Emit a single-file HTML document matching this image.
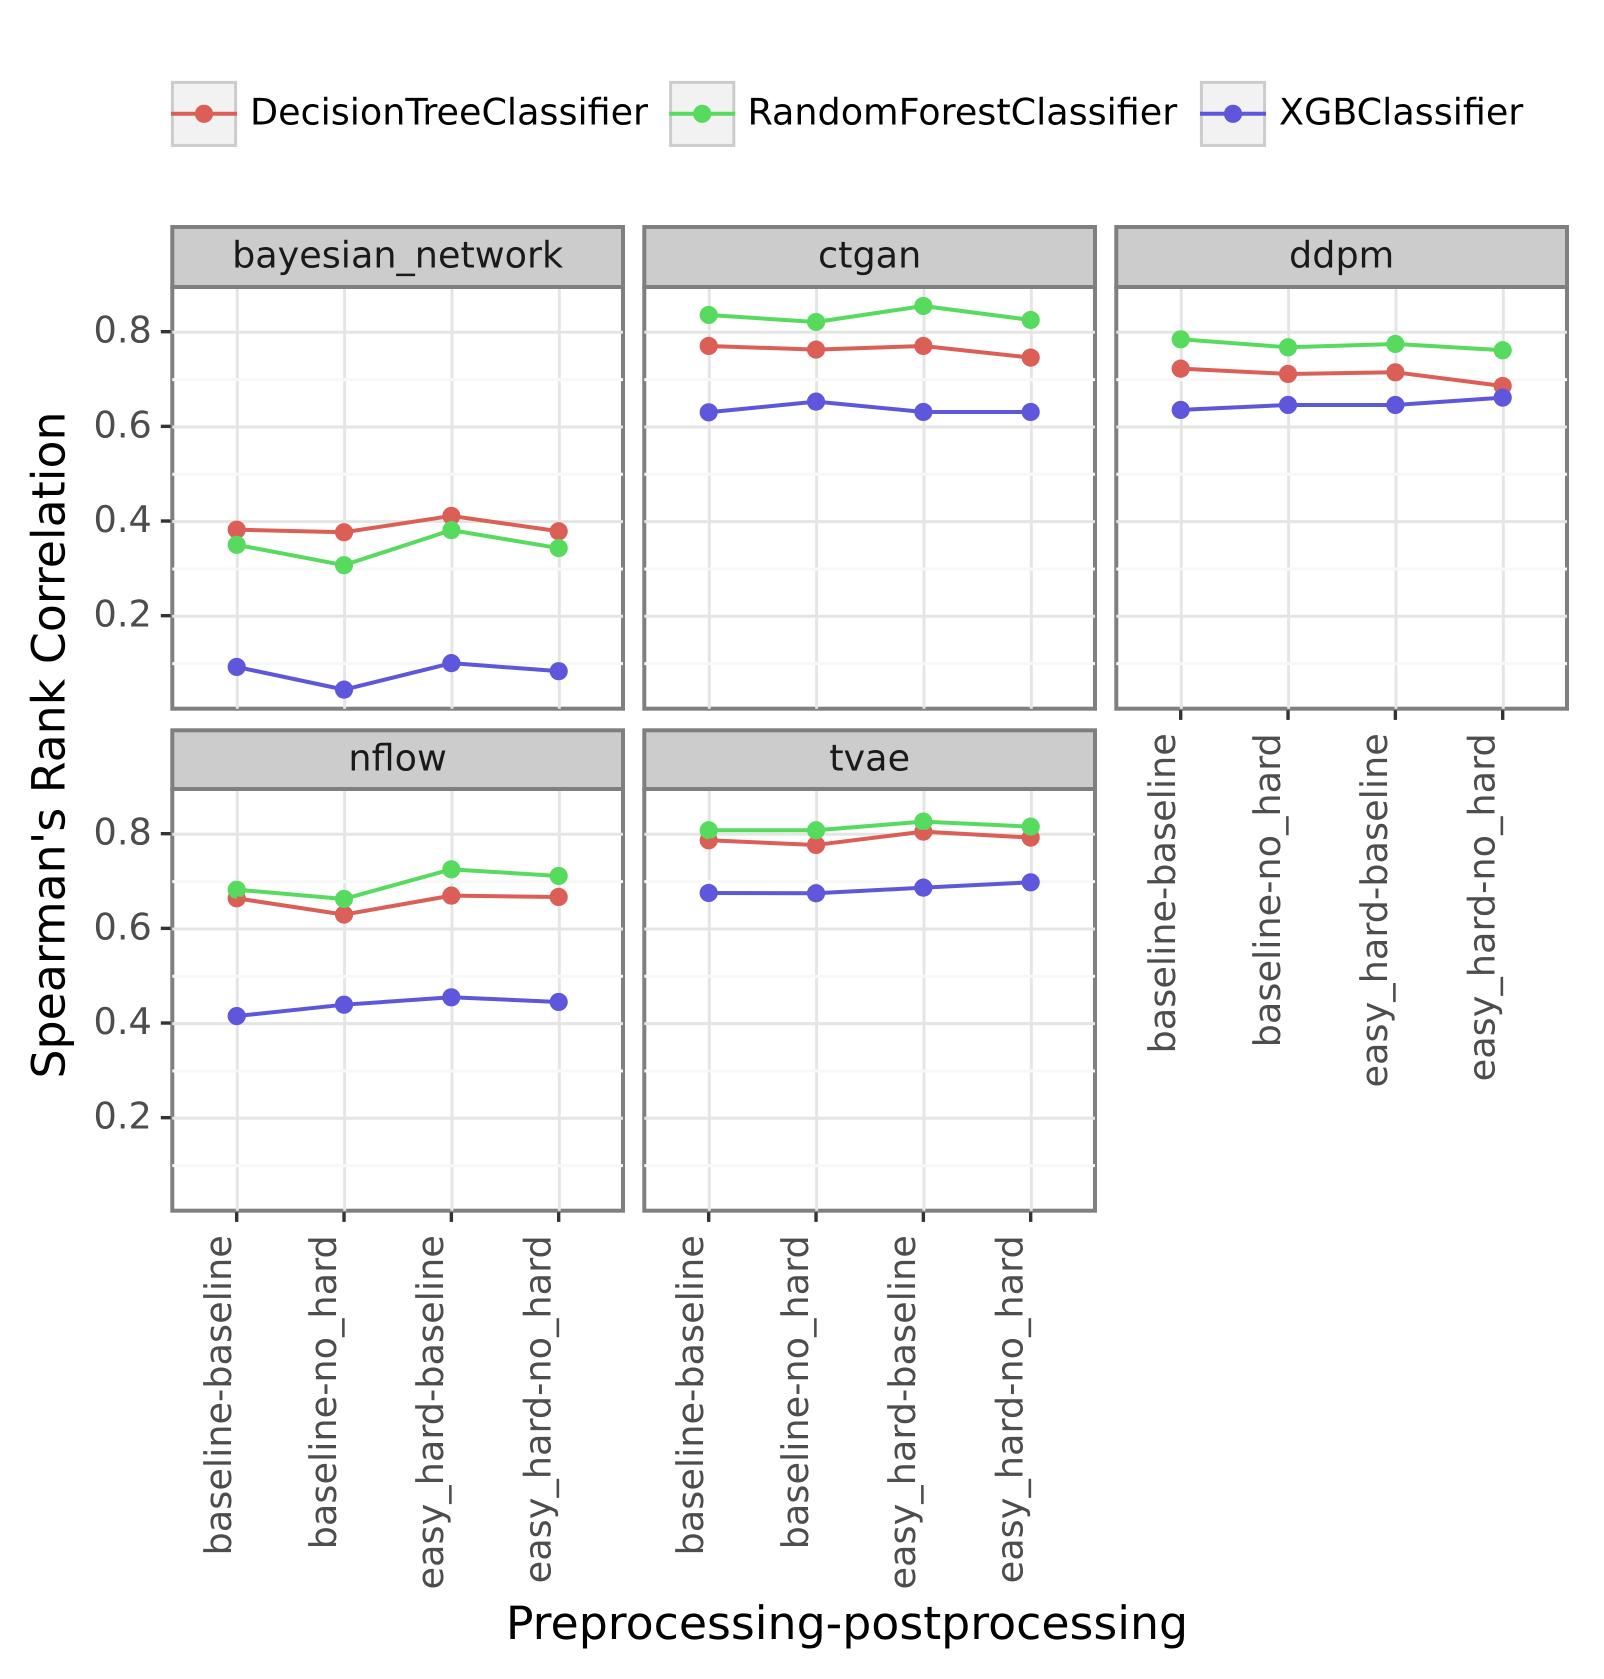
<!DOCTYPE html>
<html lang="en">
<head>
<meta charset="utf-8">
<title>Spearman's Rank Correlation by preprocessing-postprocessing</title>
<style>
  html, body { margin: 0; padding: 0; background: #ffffff; }
  svg { display: block; font-family: "DejaVu Sans", "Liberation Sans", sans-serif; text-rendering: geometricPrecision; }
</style>
</head>
<body>
<svg id="chart" xmlns="http://www.w3.org/2000/svg" width="1604" height="1679" viewBox="0 0 1604 1679">
  <rect x="0" y="0" width="1604" height="1679" fill="#ffffff"></rect>
  <text transform="translate(64.5 745) rotate(-90)" text-anchor="middle" font-size="45.83" fill="#000000">Spearman's Rank Correlation</text>
  <text x="847" y="1639" text-anchor="middle" font-size="45.83" fill="#000000">Preprocessing-postprocessing</text>
</svg>
<script>
const categories = ['baseline-baseline', 'baseline-no_hard', 'easy_hard-baseline', 'easy_hard-no_hard'];
const classifiers = ['DecisionTreeClassifier', 'RandomForestClassifier', 'XGBClassifier'];
const majorTicks = [0.2, 0.4, 0.6, 0.8];
const majorTickLabels = ['0.2', '0.4', '0.6', '0.8'];
const minorTicks = [0.1, 0.3, 0.5, 0.7];
const panelNames = ['bayesian_network', 'ctgan', 'ddpm', 'nflow', 'tvae'];

const bayesianDecisionTree = [0.383, 0.3775, 0.412, 0.3796];
const bayesianRandomForest = [0.351, 0.308, 0.382, 0.344];
const bayesianXgb = [0.093, 0.045, 0.101, 0.084];

const ctganDecisionTree = [0.7711, 0.7634, 0.7711, 0.7465];
const ctganRandomForest = [0.8366, 0.8218, 0.8556, 0.826];
const ctganXgb = [0.631, 0.6535, 0.6317, 0.6317];

const ddpmDecisionTree = [0.7232, 0.712, 0.7155, 0.6866];
const ddpmRandomForest = [0.7852, 0.7683, 0.7754, 0.762];
const ddpmXgb = [0.636, 0.6465, 0.6465, 0.662];

const nflowDecisionTree = [0.6648, 0.6303, 0.6704, 0.6676];
const nflowRandomForest = [0.683, 0.6634, 0.726, 0.712];
const nflowXgb = [0.416, 0.44, 0.4556, 0.4458];

const tvaeDecisionTree = [0.7873, 0.7775, 0.8056, 0.793];
const tvaeRandomForest = [0.8085, 0.8085, 0.8268, 0.8162];
const tvaeXgb = [0.676, 0.6754, 0.6873, 0.6986];

const panelSeries = [
  [bayesianDecisionTree, bayesianRandomForest, bayesianXgb],
  [ctganDecisionTree, ctganRandomForest, ctganXgb],
  [ddpmDecisionTree, ddpmRandomForest, ddpmXgb],
  [nflowDecisionTree, nflowRandomForest, nflowXgb],
  [tvaeDecisionTree, tvaeRandomForest, tvaeXgb]
];

const NS = 'http://www.w3.org/2000/svg';
const svg = document.getElementById('chart');
const COLORS = ['#db5f57', '#57db5f', '#5f57db'];
const PANEL_STEP_X = 472;
const PANEL_WIDTH = 450.7;

function make(tag, attrs, parent) {
  const el = document.createElementNS(NS, tag);
  for (const k in attrs) el.setAttribute(k, attrs[k]);
  parent.appendChild(el);
  return el;
}
function panelColumn(p) { return p % 3; }
function panelRow(p) { return p < 3 ? 0 : 1; }
function panelLeft(p) { return 172.3 + PANEL_STEP_X * panelColumn(p); }
function panelBottom(p) { return 708.7 + 502 * panelRow(p); }
function panelTop(p) { return 287 + 502 * panelRow(p); }
function stripTop(p) { return panelRow(p) === 0 ? 227 : 730.3; }
function xScale(p, i) { return panelLeft(p) + 64.4 + 107.33 * i; }
function yScale(p, v) { return 332.3 + 502 * panelRow(p) + (0.8 - v) * 473.3; }
function slug(s) { return s.replace(/_/g, '-').toLowerCase(); }

/* panels */
panelNames.forEach(function (name, p) {
  const L = panelLeft(p), T = panelTop(p), B = panelBottom(p), R = L + PANEL_WIDTH;
  const g = make('g', {}, svg);
  
  

  const bg = make('rect', { x: L, y: T, width: PANEL_WIDTH, height: B - T, fill: '#ffffff', stroke: '#7f7f7f', 'stroke-width': 4 }, g);
  
  

  categories.forEach(function (c, i) {
    const gx = xScale(p, i) + 0.6;
    const line = make('line', { x1: gx, x2: gx, y1: T, y2: B, stroke: '#e5e5e5', 'stroke-width': 3 }, g);
    
    
  });
  majorTicks.forEach(function (v) {
    const gy = yScale(p, v);
    const line = make('line', { x1: L, x2: R, y1: gy, y2: gy, stroke: '#e5e5e5', 'stroke-width': 3 }, g);
    
    
  });
  minorTicks.forEach(function (v) {
    const gy = yScale(p, v);
    const line = make('line', { x1: L, x2: R, y1: gy, y2: gy, stroke: '#f8f8f8', 'stroke-width': 3 }, g);
    
    
  });

  /* marks: points first, then lines */
  panelSeries[p].forEach(function (vals, s) {
    vals.forEach(function (v, i) {
      const pt = make('circle', { cx: xScale(p, i), cy: yScale(p, v), r: 9.1, fill: COLORS[s] }, g);
      
      
    });
  });
  panelSeries[p].forEach(function (vals, s) {
    const pts = vals.map(function (v, i) { return xScale(p, i).toFixed(2) + ',' + yScale(p, v).toFixed(2); }).join(' ');
    const pl = make('polyline', { points: pts, fill: 'none', stroke: COLORS[s], 'stroke-width': 4, 'stroke-linejoin': 'round' }, g);
    
    
  });

  /* strip */
  const sT = stripTop(p);
  const strip = make('rect', { x: L, y: sT, width: PANEL_WIDTH, height: T - sT, fill: '#cccccc', stroke: '#7f7f7f', 'stroke-width': 4 }, g);
  
  
  const st = make('text', { x: L + PANEL_WIDTH / 2, y: panelRow(p) === 0 ? 267.5 : 770.5, 'text-anchor': 'middle', 'font-size': 36.55, fill: '#1a1a1a' }, g);
  st.textContent = name;
  
  

  /* y axis on left column */
  if (panelColumn(p) === 0) {
    majorTicks.forEach(function (v, k) {
      const ty = yScale(p, v) - 0.6;
      const tick = make('line', { x1: 160.8, x2: 170.5, y1: ty, y2: ty, stroke: '#333333', 'stroke-width': 3.4 }, g);
      
      
      const lab = make('text', { x: 151.8, y: ty + 11, 'text-anchor': 'end', 'font-size': 36.67, fill: '#4d4d4d' }, g);
      lab.textContent = majorTickLabels[k];
      
      
    });
  }

  /* x axis under bottom-most panel of each column */
  if (p >= 2) {
    categories.forEach(function (c, i) {
      const tx = xScale(p, i);
      const tick = make('line', { x1: tx, x2: tx, y1: B + 1.6, y2: B + 11.2, stroke: '#333333', 'stroke-width': 3.4 }, g);
      
      
      const dx = c.indexOf('_') >= 0 ? -8.2 : -5.6;
      const lab = make('text', { transform: 'translate(' + (tx + dx) + ' ' + (B + 24.5) + ') rotate(-90)', 'text-anchor': 'end', 'font-size': 36.67, fill: '#4d4d4d' }, g);
      lab.textContent = c;
      
      
    });
  }
});

/* legend */
const legendKeyX = [171, 669.2, 1200];
const legendTextX = [250, 747.5, 1279];
const legend = make('g', {}, svg);


classifiers.forEach(function (name, s) {
  const kx = legendKeyX[s];
  const entry = make('g', {}, legend);
  
  
  const box = make('rect', { x: kx + 1.4, y: 82.4, width: 63.2, height: 63, fill: '#f2f2f2', stroke: '#cccccc', 'stroke-width': 3 }, entry);
  
  
  const ln = make('line', { x1: kx, x2: kx + 66, y1: 113.8, y2: 113.8, stroke: COLORS[s], 'stroke-width': 4 }, entry);
  
  
  const dot = make('circle', { cx: kx + 33, cy: 113.8, r: 9.1, fill: COLORS[s] }, entry);
  
  
  const tx = make('text', { x: legendTextX[s], y: 124.5, 'font-size': 36.5, fill: '#000000' }, entry);
  tx.textContent = name;
  
  
});
</script>
</body>
</html>
